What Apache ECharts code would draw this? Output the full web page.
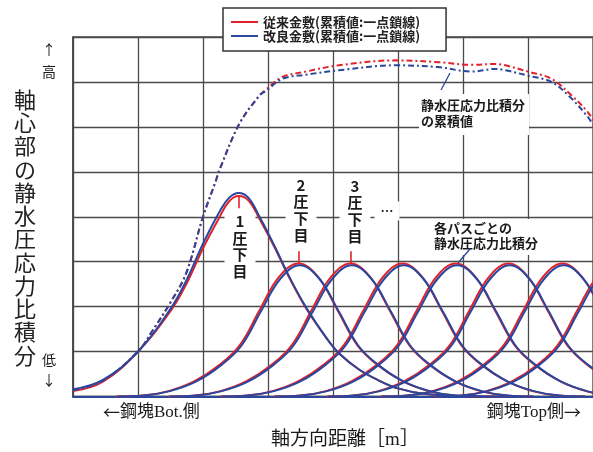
<!DOCTYPE html>
<html><head><meta charset="utf-8">
<script src="https://cdn.jsdelivr.net/npm/echarts@6/dist/echarts.min.js"></script>
<style>html,body{margin:0;padding:0;background:#fff}#c{width:593px;height:452px}</style>
</head><body><div id="c"></div>
<script>
// ---- data (x: grid columns, y: grid rows) ----
const redPass1 = [[0,0.12],[0.46,0.33],[1.0,1.0],[1.5,1.9],[1.75,2.52],[2.0,3.3],[2.25,3.98],[2.4,4.34],[2.55,4.46],[2.7,4.36],[2.87,3.95],[3.1,3.32],[3.35,2.58],[3.6,1.93],[3.9,1.3],[4.1,0.95],[4.4,0.6],[4.7,0.36],[5.0,0.18],[5.4,0.06],[6.0,0.01],[6.6,0]];
const bluePass1 = [[0,0.16],[0.46,0.37],[1.0,1.0],[1.5,1.95],[1.75,2.6],[2.0,3.4],[2.25,4.1],[2.4,4.42],[2.55,4.53],[2.7,4.42],[2.87,4.0],[3.1,3.35],[3.35,2.6],[3.6,1.95],[3.9,1.3],[4.1,0.95],[4.4,0.6],[4.7,0.36],[5.0,0.18],[5.4,0.06],[6.0,0.01],[6.6,0]];
const redPass2 = [[0.67,0],[1.07,0.02],[1.47,0.12],[1.87,0.34],[2.27,0.72],[2.57,1.15],[2.87,1.92],[3.17,2.66],[3.47,2.96],[3.77,2.66],[4.07,1.92],[4.37,1.15],[4.67,0.72],[5.07,0.34],[5.47,0.12],[5.87,0.02],[6.27,0]];
const bluePass2 = [[0.69,0],[1.09,0.02],[1.49,0.12],[1.89,0.33],[2.29,0.71],[2.59,1.13],[2.89,1.89],[3.19,2.62],[3.49,2.92],[3.79,2.62],[4.09,1.89],[4.39,1.13],[4.69,0.71],[5.09,0.33],[5.49,0.12],[5.89,0.02],[6.29,0]];
const redPass3 = [[1.47,0],[1.87,0.02],[2.27,0.12],[2.67,0.34],[3.07,0.72],[3.37,1.15],[3.67,1.92],[3.97,2.66],[4.27,2.96],[4.57,2.66],[4.87,1.92],[5.17,1.15],[5.47,0.72],[5.87,0.34],[6.27,0.12],[6.67,0.02],[7.07,0]];
const bluePass3 = [[1.49,0],[1.89,0.02],[2.29,0.12],[2.69,0.33],[3.09,0.71],[3.39,1.13],[3.69,1.89],[3.99,2.62],[4.29,2.92],[4.59,2.62],[4.89,1.89],[5.19,1.13],[5.49,0.71],[5.89,0.33],[6.29,0.12],[6.69,0.02],[7.09,0]];
const redPass4 = [[2.27,0],[2.67,0.02],[3.07,0.12],[3.47,0.34],[3.87,0.72],[4.17,1.15],[4.47,1.92],[4.77,2.66],[5.07,2.96],[5.37,2.66],[5.67,1.92],[5.97,1.15],[6.27,0.72],[6.67,0.34],[7.07,0.12],[7.47,0.02],[7.87,0]];
const bluePass4 = [[2.29,0],[2.69,0.02],[3.09,0.12],[3.49,0.33],[3.89,0.71],[4.19,1.13],[4.49,1.89],[4.79,2.62],[5.09,2.92],[5.39,2.62],[5.69,1.89],[5.99,1.13],[6.29,0.71],[6.69,0.33],[7.09,0.12],[7.49,0.02],[7.89,0]];
const redPass5 = [[3.09,0],[3.49,0.02],[3.89,0.12],[4.29,0.34],[4.69,0.72],[4.99,1.15],[5.29,1.92],[5.59,2.66],[5.89,2.96],[6.19,2.66],[6.49,1.92],[6.79,1.15],[7.09,0.72],[7.49,0.34],[7.89,0.12],[8.29,0.02],[8.69,0]];
const bluePass5 = [[3.11,0],[3.51,0.02],[3.91,0.12],[4.31,0.33],[4.71,0.71],[5.01,1.13],[5.31,1.89],[5.61,2.62],[5.91,2.92],[6.21,2.62],[6.51,1.89],[6.81,1.13],[7.11,0.71],[7.51,0.33],[7.91,0.12],[8.31,0.02],[8.71,0]];
const redPass6 = [[3.90,0],[4.30,0.02],[4.70,0.12],[5.10,0.34],[5.50,0.72],[5.80,1.15],[6.10,1.92],[6.40,2.66],[6.70,2.96],[7.00,2.66],[7.30,1.92],[7.60,1.15],[7.90,0.72],[8.30,0.34],[8.70,0.12]];
const bluePass6 = [[3.92,0],[4.32,0.02],[4.72,0.12],[5.12,0.33],[5.52,0.71],[5.82,1.13],[6.12,1.89],[6.42,2.62],[6.72,2.92],[7.02,2.62],[7.32,1.89],[7.62,1.13],[7.92,0.71],[8.32,0.33],[8.72,0.12]];
const redPass7 = [[4.73,0],[5.13,0.02],[5.53,0.12],[5.93,0.34],[6.33,0.72],[6.63,1.15],[6.93,1.92],[7.23,2.66],[7.53,2.96],[7.83,2.66],[8.13,1.92],[8.43,1.15]];
const bluePass7 = [[4.75,0],[5.15,0.02],[5.55,0.12],[5.95,0.33],[6.35,0.71],[6.65,1.13],[6.95,1.89],[7.25,2.62],[7.55,2.92],[7.85,2.62],[8.15,1.89],[8.45,1.13]];
const redPass8 = [[5.56,0],[5.96,0.02],[6.36,0.12],[6.76,0.34],[7.16,0.72],[7.46,1.15],[7.76,1.92],[8.06,2.66],[8.36,2.96]];
const bluePass8 = [[5.58,0],[5.98,0.02],[6.38,0.12],[6.78,0.33],[7.18,0.71],[7.48,1.13],[7.78,1.89],[8.08,2.62],[8.38,2.92]];
const redCumulative = [[0,0.14],[0.46,0.35],[1.0,1.0],[1.23,1.48],[1.49,2.07],[1.74,2.74],[2.0,4.0],[2.2,4.81],[2.25,5.03],[2.56,6.07],[2.87,6.7],[2.97,6.83],[3.22,7.11],[3.58,7.23],[4.09,7.37],[4.96,7.48],[5.62,7.44],[6.13,7.38],[6.49,7.40],[6.65,7.37],[7.0,7.23],[7.36,7.07],[7.67,6.7],[7.92,6.33],[8.0,6.15]];
const blueCumulative = [[0,0.14],[0.46,0.35],[1.0,1.0],[1.23,1.48],[1.49,2.07],[1.74,2.74],[2.0,4.0],[2.2,4.81],[2.25,5.03],[2.56,6.07],[2.87,6.7],[2.97,6.8],[3.22,7.07],[3.58,7.16],[4.09,7.26],[4.96,7.37],[5.62,7.33],[6.13,7.23],[6.49,7.29],[6.65,7.26],[7.0,7.14],[7.36,7.0],[7.67,6.63],[7.92,6.22],[8.0,6.05]];
const legendNames = ['従来金敷(累積値:一点鎖線)', '改良金敷(累積値:一点鎖線)'];
const passLabels = ['1\n圧\n下\n目', '2\n圧\n下\n目', '3\n圧\n下\n目', '…'];
const yTitle = '軸心部の静水圧応力比積分';
const xTitle = '軸方向距離［m］';
const xSideLabels = ['{a|←}鋼塊Bot.側', '鋼塊Top側{a|→}'];
const yEndLabels = ['↑', '高', '低', '↓'];
const noteCumulative = '静水圧応力比積分\nの累積値';
const notePass = '各パスごとの\n静水圧応力比積分';

const RED = '#e2222b', BLUE = '#2a479e';
const CJK = "'Noto Sans CJK JP', sans-serif";
const SERIF = "'Liberation Serif', 'Noto Sans CJK JP', serif";

function peak(arr){ return arr.reduce((a,b)=> b[1]>a[1]?b:a); }
function tick(arr, dir){ const p = peak(arr); return {symbol:'none', silent:true, label:{show:false}, lineStyle:{color:RED,width:1.6,type:'solid'}, data:[[{coord:[p[0],p[1]]},{coord:[p[0],p[1]+dir*0.27]}]]}; }
function passSeries(data, color, name, extra){
  return Object.assign({type:'line', name, data, smooth:0.4, showSymbol:false, symbol:'none', silent:true,
    lineStyle:{color, width:2}, itemStyle:{color}, z: color===BLUE?3:2}, extra||{});
}
const reds = [redPass1,redPass2,redPass3,redPass4,redPass5,redPass6,redPass7,redPass8];
const blues = [bluePass1,bluePass2,bluePass3,bluePass4,bluePass5,bluePass6,bluePass7,bluePass8];
const series = [];
reds.forEach((r,i)=>{
  let extra = null;
  if(i===0) extra = {markLine: tick(r,-1)};
  if(i===1 || i===2) extra = {markLine: tick(r,1)};
  series.push(passSeries(r, RED, legendNames[0], extra));
  series.push(passSeries(blues[i], BLUE, legendNames[1]));
});
series.push({type:'line', name:legendNames[0], data:redCumulative, smooth:0.35, showSymbol:false, symbol:'none', silent:true, z:2,
  lineStyle:{color:RED, width:2, type:[6,3,2,3]}, itemStyle:{color:RED}});
series.push({type:'line', name:legendNames[1], data:blueCumulative, smooth:0.35, showSymbol:false, symbol:'none', silent:true, z:3,
  lineStyle:{color:BLUE, width:2, type:[6,3,2,3]}, itemStyle:{color:BLUE}});

const txt = (x,y,text,o)=>({type:'text', z:100, style:Object.assign({x,y,text,fill:'#1a1a1a', fontFamily:CJK, fontSize:13, align:'center', verticalAlign:'top'}, o)});
const arrowRich = {a:{fontFamily:CJK, fontSize:17, fill:'#1a1a1a'}};
const graphic = [
  // y-axis title (vertical writing)
  txt(25, 227.5, yTitle.split('').join('\n'), {fontSize:22, lineHeight:23.25, verticalAlign:'middle', fill:'#222'}),
  txt(49, 50, yEndLabels[0], {fontSize:14, verticalAlign:'middle'}),
  txt(49, 72, yEndLabels[1], {fontSize:14, verticalAlign:'middle'}),
  txt(49, 360, yEndLabels[2], {fontSize:14, verticalAlign:'middle'}),
  txt(49, 380, yEndLabels[3], {fontSize:14, verticalAlign:'middle'}),
  // x side labels and title
  txt(103, 413, xSideLabels[0], {fontSize:17, fontFamily:SERIF, align:'left', verticalAlign:'middle', rich:arrowRich}),
  txt(581, 413, xSideLabels[1], {fontSize:17, fontFamily:SERIF, align:'right', verticalAlign:'middle', rich:arrowRich}),
  txt(345, 440, xTitle, {fontSize:19, fontFamily:SERIF, verticalAlign:'middle'}),
  // pass labels
  txt(240, 213, passLabels[0], {fontSize:15, fontWeight:'bold', lineHeight:16.7, backgroundColor:'#fff', padding:[0,8]}),
  txt(301, 176.5, passLabels[1], {fontSize:15, fontWeight:'bold', lineHeight:16.7, backgroundColor:'#fff', padding:[0,8,2,8]}),
  txt(355, 177.5, passLabels[2], {fontSize:15, fontWeight:'bold', lineHeight:16.7, backgroundColor:'#fff', padding:[0,8,2,8]}),
  txt(387, 211, passLabels[3], {fontSize:13, fontWeight:'bold', verticalAlign:'middle', backgroundColor:'#fff', padding:[3,6]}),
  // notes
  txt(419, 94, noteCumulative, {fontSize:13, fontWeight:'bold', lineHeight:16, align:'left', backgroundColor:'#fff', padding:[3,4,6,2]}),
  txt(430, 219, notePass, {fontSize:13, fontWeight:'bold', lineHeight:15, align:'left', backgroundColor:'#fff', padding:[2,4,4,4]}),
  {type:'line', z:101, shape:{x1:441, y1:90, x2:450, y2:73}, style:{stroke:BLUE, lineWidth:1.3}},
  {type:'line', z:101, shape:{x1:470, y1:249, x2:458, y2:263}, style:{stroke:BLUE, lineWidth:1.3}}
];

const chart = echarts.init(document.getElementById('c'), null, {renderer:'canvas'});
chart.setOption({
  animation:false,
  backgroundColor:'#fff',
  grid:{left:73, top:37, width:522, height:359.5, show:true, borderColor:'#4a4a4a', borderWidth:1.3},
  legend:{
    data: legendNames, orient:'vertical', left:223, top:8, selectedMode:false,
    icon:'rect', itemWidth:27, itemHeight:2, itemGap:0,
    padding:[7,26,8,8], backgroundColor:'#fff', borderColor:'#333', borderWidth:1.5,
    textStyle:{fontFamily:CJK, fontWeight:'bold', fontSize:13, color:'#222', lineHeight:14}
  },
  xAxis:{type:'value', min:0, max:8, interval:1,
    axisLine:{show:true, onZero:false, lineStyle:{color:BLUE, width:2}}, axisTick:{show:false}, axisLabel:{show:false},
    splitLine:{show:true, lineStyle:{color:'#4a4a4a', width:1.3}}},
  yAxis:{type:'value', min:0, max:8, interval:1,
    axisLine:{show:true, lineStyle:{color:'#444', width:1.5}}, axisTick:{show:false}, axisLabel:{show:false},
    splitLine:{show:true, lineStyle:{color:'#4a4a4a', width:1.3}}},
  series,
  graphic
});
</script></body></html>
